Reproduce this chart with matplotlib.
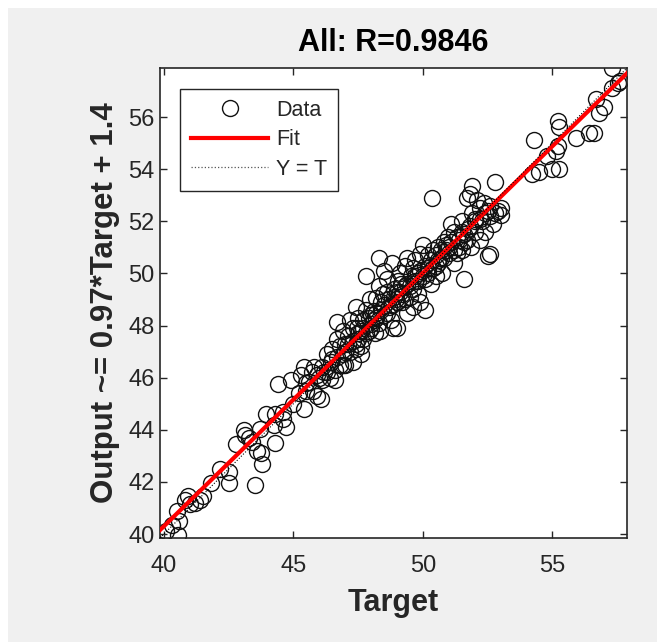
import numpy as np
import matplotlib
matplotlib.use('Agg')
from matplotlib import pyplot as plt
from matplotlib.patches import Rectangle
from matplotlib.lines import Line2D

# Target / Output pairs
target = [
	40.1, 40.3, 40.55, 40.5, 40.6, 40.8, 40.95, 41.0, 41.4, 41.5, 41.2, 41.8,
	42.15, 42.5, 42.5, 42.8, 43.1, 43.15, 43.3, 43.6, 43.75, 43.8, 43.5, 43.7, 43.95, 43.4,
	44.25, 44.3, 44.3, 44.6, 44.6, 44.4, 44.7, 45.0, 44.9,
	45.3, 45.4, 45.4, 45.6, 45.8, 45.9, 46.0, 46.05, 45.7, 45.5, 45.75, 46.1,
	46.3, 46.5, 46.7, 46.7, 46.9, 46.2, 46.45, 46.6, 46.8, 47.0, 46.9, 46.4, 46.6, 46.9,
	47.1, 47.2, 47.3, 47.4, 47.5, 47.6, 47.7, 47.8, 47.9, 47.5, 47.2, 47.6, 47.8, 47.95, 47.3, 47.7, 48.0, 47.4, 47.0,
	48.2, 48.1, 48.0, 48.35, 48.85, 48.3, 48.5, 48.6, 48.4, 48.7, 48.2, 48.9, 48.8, 48.5, 48.6, 48.95, 48.3, 48.75,
	49.0, 49.4, 49.9, 49.3, 49.5, 49.6, 49.2, 49.7, 49.8, 49.1, 49.4, 49.9, 49.3, 49.6, 49.8, 49.15, 49.55, 49.0, 49.7,
	50.1, 50.0, 50.35, 50.2, 50.3, 50.4, 50.5, 50.6, 50.7, 50.8, 50.9, 50.2, 50.5, 50.75, 50.1, 50.6, 50.95,
	51.0, 51.2, 51.3, 51.4, 51.5, 51.6, 51.6, 51.7, 51.8, 51.9, 51.75, 51.9, 51.2, 51.5, 51.1, 52.0, 51.85,
	52.2, 52.3, 52.4, 52.5, 52.6, 52.1, 52.6, 52.8, 52.9, 53.0, 52.7, 52.35, 52.2, 52.5, 53.0, 52.0,
	54.2, 54.3, 54.5, 54.8, 55.0, 55.25, 55.2, 55.15, 55.2, 55.25, 55.9, 56.4, 56.6, 56.7, 56.8, 57.0, 57.3, 57.55, 57.3, 57.6,
	# dense band along the fit
	45.2, 45.5, 45.9, 46.1, 46.3, 46.5, 46.7, 46.8, 47.0, 47.1, 47.3, 47.4, 47.5, 47.6, 47.7, 47.8,
	47.9, 48.0, 48.1, 48.2, 48.3, 48.4, 48.5, 48.6, 48.7, 48.8, 48.9, 49.0, 49.1, 49.2, 49.3, 49.4,
	49.5, 49.6, 49.7, 49.8, 49.9, 50.0, 50.1, 50.2, 50.3, 50.4, 50.5, 50.6, 50.7, 50.8, 50.9, 51.0,
	51.1, 51.2, 51.3, 51.4, 51.5, 51.6, 51.7, 51.8, 52.0, 52.2, 52.4, 52.6, 52.8, 48.45, 49.05, 47.45, 48.15,
]
output = [
	40.1, 40.35, 39.95, 40.9, 40.5, 41.3, 41.45, 41.15, 41.3, 41.45, 41.2, 41.95,
	42.5, 42.4, 41.95, 43.45, 44.0, 43.8, 43.7, 43.2, 43.1, 42.7, 41.9, 44.05, 44.6, 43.55,
	44.2, 43.5, 44.6, 44.4, 44.7, 45.75, 44.1, 45.0, 45.9,
	46.1, 46.4, 44.8, 45.85, 46.4, 45.3, 46.0, 45.2, 46.2, 45.5, 45.5, 45.9,
	46.9, 47.1, 47.5, 48.15, 46.9, 46.2, 46.6, 46.3, 47.2, 47.3, 47.8, 46.0, 45.9, 46.5,
	47.6, 47.0, 47.9, 47.3, 47.7, 47.2, 48.2, 48.6, 47.8, 48.3, 48.2, 46.9, 49.9, 49.0, 46.6, 47.5, 48.4, 48.7, 46.5,
	49.05, 48.55, 48.05, 47.8, 47.9, 50.6, 50.1, 49.3, 48.9, 48.7, 48.3, 49.4, 50.4, 48.4, 49.8, 49.0, 49.5, 48.2,
	47.9, 50.6, 50.75, 49.5, 49.1, 50.2, 48.9, 49.7, 49.2, 50.0, 48.5, 48.9, 50.3, 48.7, 50.0, 49.6, 49.9, 49.3, 50.5,
	48.6, 51.1, 52.9, 50.2, 49.6, 50.9, 50.3, 51.0, 50.6, 51.2, 50.9, 50.7, 49.9, 50.0, 49.8, 50.4, 51.4,
	51.0, 51.6, 50.8, 51.3, 52.0, 49.8, 51.2, 52.9, 53.05, 53.35, 51.7, 52.3, 50.4, 50.9, 51.9, 51.6, 51.0,
	52.5, 52.0, 51.6, 50.67, 50.75, 52.8, 52.2, 53.5, 52.4, 52.25, 51.9, 52.7, 51.3, 52.4, 52.5, 52.1,
	53.8, 55.1, 53.9, 54.5, 54.0, 54.0, 54.9, 54.7, 55.85, 55.6, 55.2, 55.4, 55.4, 56.7, 56.15, 56.4, 57.88, 57.3, 57.1, 57.4,
	45.4, 45.8, 46.1, 46.4, 46.2, 46.7, 46.8, 46.5, 47.0, 47.3, 47.4, 47.1, 47.5, 47.8, 47.9, 47.7,
	48.3, 47.9, 48.2, 48.5, 48.1, 48.6, 48.8, 48.5, 49.0, 48.8, 49.1, 48.9, 49.3, 49.2, 49.0, 49.6,
	49.5, 49.4, 49.9, 49.7, 50.1, 49.9, 50.3, 50.0, 50.5, 50.2, 50.7, 50.5, 50.9, 50.6, 51.1, 50.8,
	51.2, 50.9, 51.4, 51.0, 51.6, 51.5, 51.3, 51.8, 52.0, 52.1, 52.3, 52.6, 52.3, 49.2, 49.7, 47.9, 47.7,
]

fit_slope = 0.972
fit_intercept = 1.42
axis_lim = [39.85, 57.88]
x_ticks = [40, 45, 50, 55]
y_ticks = [40, 42, 44, 46, 48, 50, 52, 54, 56]

plt.rcParams['font.family'] = ['Liberation Sans', 'DejaVu Sans']
dark = '#262626'

fig = plt.figure(figsize=(6.57, 6.42), dpi=100, facecolor='white')
# grey MATLAB window with a thin white margin top/left
fig.patches.append(Rectangle((8 / 657, 0), 1, 1 - 8 / 642, transform=fig.transFigure,
	facecolor='#f0f0f0', edgecolor='none', zorder=-10))

ax = fig.add_axes([160 / 657, 1 - 538 / 642, 467 / 657, 470 / 642])
ax.set_facecolor('white')

line_x = np.array(axis_lim)
ax.plot(target, output, 'o', mfc='none', mec='#111111', ms=11.5, mew=1.0, zorder=2)
ax.plot(line_x, fit_slope * line_x + fit_intercept, color='red', lw=3, zorder=3)
ax.plot(line_x, line_x, ':', color='black', lw=0.8, zorder=4)

ax.set_xlim(axis_lim)
ax.set_ylim(axis_lim)
ax.set_xticks(x_ticks)
ax.set_yticks(y_ticks)
ax.tick_params(direction='in', top=True, right=True, length=5, width=1,
	colors=dark, labelsize=17, labelcolor=dark)
ax.tick_params(axis='x', pad=12)
ax.tick_params(axis='y', pad=4)
for s in ax.spines.values():
	s.set_color(dark)
	s.set_linewidth(1.2)

ax.set_title('All: R=0.9846', fontsize=22, fontweight='bold', color='black', pad=12)
ax.set_xlabel('Target', fontsize=22, fontweight='bold', color=dark, labelpad=8)
ax.set_ylabel('Output ~= 0.97*Target + 1.4', fontsize=22.5, fontweight='bold', color=dark, labelpad=6)

handles = [
	Line2D([], [], ls='none', marker='o', mfc='none', mec='#111111', ms=11.5, mew=1.0),
	Line2D([], [], color='red', lw=3),
	Line2D([], [], color='#555555', ls=':', lw=0.9),
]
leg = ax.legend(handles, ['Data', 'Fit', 'Y = T'], loc='upper left',
	bbox_to_anchor=(20 / 467, 1 - 21 / 470), borderaxespad=0, fontsize=15.5,
	handlelength=3.6, handletextpad=0.35, borderpad=0.5, labelspacing=0.4,
	fancybox=False, framealpha=1, edgecolor=dark)
leg.get_frame().set_linewidth(1.0)
for t in leg.get_texts():
	t.set_color(dark)

plt.savefig('out.png', dpi=100, facecolor=fig.get_facecolor())
